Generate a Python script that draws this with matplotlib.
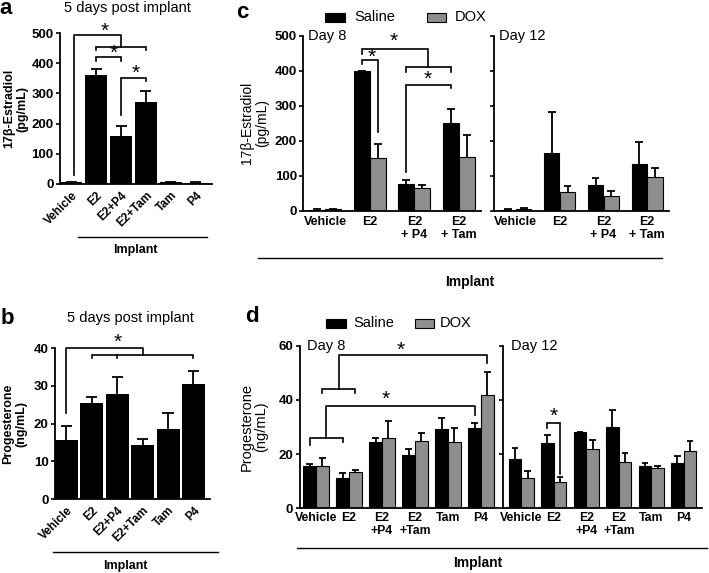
import numpy as np
import matplotlib
matplotlib.use('Agg')
import matplotlib.pyplot as plt
from matplotlib.lines import Line2D
from matplotlib.patches import Rectangle

plt.rcParams['font.family'] = ['Liberation Sans', 'DejaVu Sans']

# a/b: 5 days post implant (bar value, top of error bar)
groups_5d = ['Vehicle', 'E2', 'E2+P4', 'E2+Tam', 'Tam', 'P4']
e2_5d = [5, 361, 160, 273, 6, 4]
e2_5d_err = [6, 380, 193, 308, 7, 5]
p4_5d = [15.7, 25.6, 28.0, 14.3, 18.5, 30.4]
p4_5d_err = [19.4, 27.2, 32.3, 15.9, 22.7, 33.9]

# c: estradiol, saline vs DOX
groups_c = ['Vehicle', 'E2', 'E2\n+ P4', 'E2\n+ Tam']
e2_d8_sal = [3, 400, 76, 251]
e2_d8_sal_err = [4, 400, 88, 291]
e2_d8_dox = [4, 152, 65, 154]
e2_d8_dox_err = [5, 190, 73, 217]
e2_d12_sal = [3, 165, 74, 133]
e2_d12_sal_err = [4, 283, 95, 198]
e2_d12_dox = [6, 53, 43, 97]
e2_d12_dox_err = [8, 70, 56, 122]

# d: progesterone, saline vs DOX
groups_d = ['Vehicle', 'E2', 'E2\n+P4', 'E2\n+Tam', 'Tam', 'P4']
p4_d8_sal = [15.6, 11.3, 24.5, 19.7, 29.2, 29.5]
p4_d8_sal_err = [16.4, 13.1, 26.0, 22.0, 33.2, 31.6]
p4_d8_dox = [15.6, 13.3, 25.8, 24.9, 24.6, 41.8]
p4_d8_dox_err = [18.7, 14.0, 32.2, 27.8, 29.8, 50.4]
p4_d12_sal = [18.1, 24.0, 28.0, 30.1, 15.6, 16.6]
p4_d12_sal_err = [22.2, 27.2, 28.3, 36.3, 16.6, 19.4]
p4_d12_dox = [11.1, 9.7, 22.0, 17.2, 15.0, 21.3]
p4_d12_dox_err = [13.8, 11.4, 25.4, 20.3, 15.6, 25.0]

GREY = '#8e8e8e'
W, H = 709, 573
fig = plt.figure(figsize=(W / 100, H / 100), dpi=100)


def box(x0, x1, ytop, ybot):
    return fig.add_axes([x0 / W, 1 - ybot / H, (x1 - x0) / W, (ybot - ytop) / H])


def style(ax, ymax, step, ticklabels=True, fs=9.5):
    for s in ['top', 'right']:
        ax.spines[s].set_visible(False)
    ax.spines['left'].set_linewidth(1.3)
    ax.spines['bottom'].set_linewidth(1.3)
    ax.set_ylim(0, ymax)
    ax.set_yticks(np.arange(0, ymax + 1, step))
    ax.tick_params(axis='y', length=3, width=1.2, labelsize=fs, pad=1.5)
    ax.tick_params(axis='x', length=0)
    if ticklabels:
        for t in ax.get_yticklabels():
            t.set_fontweight('bold')
    else:
        ax.set_yticklabels([])


def errbars(ax, x, vals, tops, half):
    x = np.asarray(x, dtype=float)
    ax.vlines(x, vals, tops, color='k', lw=1.3, zorder=1)
    ax.hlines(tops, x - half, x + half, color='k', lw=1.3, zorder=1)


def bracket(ax, x1, x2, y, y1, y2, lw=1.2):
    ax.plot([x1, x1, x2, x2], [y1, y, y, y2], color='k', lw=lw, clip_on=False,
            solid_joinstyle='miter')


def star(ax, x, y, fs=15):
    ax.text(x, y, '*', ha='center', va='center', fontsize=fs, clip_on=False)


def ftext(x, y, s, **kw):
    fig.text(x / W, 1 - y / H, s, **kw)


def fline(x0, x1, y):
    fig.add_artist(Line2D([x0 / W, x1 / W], [1 - y / H, 1 - y / H], color='k', lw=1.0,
                          transform=fig.transFigure))


def fpatch(x0, x1, ytop, ybot, color):
    fig.add_artist(Rectangle((x0 / W, 1 - ybot / H), (x1 - x0) / W, (ybot - ytop) / H,
                             facecolor=color, edgecolor='k', lw=0.8,
                             transform=fig.transFigure))


# ---------- a ----------
ax = box(60, 212, 33, 184)
x = np.arange(len(groups_5d))
ax.bar(x, e2_5d, width=0.9, color='k', zorder=2)
errbars(ax, x, e2_5d, e2_5d_err, 0.22)
ax.set_xlim(-0.45, 5.65)
style(ax, 500, 100)
ax.set_xticks(x)
ax.set_xticklabels(groups_5d, rotation=45, ha='right', rotation_mode='anchor',
                   fontweight='bold', fontsize=8.5)
ax.tick_params(axis='x', pad=4)
ax.plot([0.1, 0.1, 2, 2], [30, 494, 494, 455], color='k', lw=1.2, clip_on=False)
bracket(ax, 1, 3, 455, 445, 445)
star(ax, 1.35, 506)
bracket(ax, 1, 2, 420, 406, 406)
star(ax, 1.7, 432)
bracket(ax, 2, 3, 351, 229, 340)
star(ax, 2.6, 368)
ax.text(-0.29, 0.5, '17\u03b2-Estradiol\n(pg/mL)', transform=ax.transAxes, rotation=90,
        ha='center', va='center', fontsize=9, fontweight='bold', linespacing=1.1)
ftext(6, 9, 'a', fontsize=16, fontweight='bold', ha='center', va='center')
ftext(127, 8, '5 days post implant', fontsize=10.5, ha='center', va='center')
fline(78, 207, 237)
ftext(135, 250, 'Implant', fontsize=9, fontweight='bold', ha='center', va='center')

# ---------- b ----------
ax = box(55, 210, 348.3, 499)
ax.bar(x, p4_5d, width=0.9, color='k', zorder=2)
errbars(ax, x, p4_5d, p4_5d_err, 0.22)
ax.set_xlim(-0.45, 5.65)
style(ax, 40, 10)
ax.set_xticks(x)
ax.set_xticklabels(groups_5d, rotation=45, ha='right', rotation_mode='anchor',
                   fontweight='bold', fontsize=8.5)
ax.tick_params(axis='x', pad=4)
ax.plot([0, 0, 3, 3], [22.7, 40, 40, 38.2], color='k', lw=1.2, clip_on=False)
bracket(ax, 1, 5, 38.2, 37.3, 37.3)
ax.plot([2, 2], [37.3, 38.2], color='k', lw=1.2, clip_on=False)
star(ax, 2, 41.6)
ax.text(-0.26, 0.5, 'Progesterone\n(ng/mL)', transform=ax.transAxes, rotation=90,
        ha='center', va='center', fontsize=9, fontweight='bold', linespacing=1.1)
ftext(7, 319, 'b', fontsize=16, fontweight='bold', ha='center', va='center')
ftext(130, 318, '5 days post implant', fontsize=10.5, ha='center', va='center')
fline(53, 218, 552)
ftext(125, 566, 'Implant', fontsize=9, fontweight='bold', ha='center', va='center')

# ---------- c ----------
xc = np.arange(len(groups_c))
off, bw = 0.18, 0.35
for (x0, x1), sal, sal_e, dox, dox_e, day, lab in [
        ((303, 481), e2_d8_sal, e2_d8_sal_err, e2_d8_dox, e2_d8_dox_err, 'Day 8', True),
        ((494, 669), e2_d12_sal, e2_d12_sal_err, e2_d12_dox, e2_d12_dox_err, 'Day 12', False)]:
    ax = box(x0, x1, 36, 210.7)
    ax.bar(xc - off, sal, width=bw, color='k', edgecolor='k', lw=0.8, zorder=2)
    ax.bar(xc + off, dox, width=bw, color=GREY, edgecolor='k', lw=0.8, zorder=2)
    errbars(ax, xc - off, sal, sal_e, 0.09)
    errbars(ax, xc + off, dox, dox_e, 0.09)
    ax.set_xlim(-0.5, 3.5)
    style(ax, 500, 100, ticklabels=lab, fs=9.5)
    ax.set_xticks(xc)
    ax.set_xticklabels(groups_c, fontweight='bold', fontsize=9, linespacing=1.05)
    ax.tick_params(axis='x', pad=4)
    ax.text(0.03, 1.0, day, transform=ax.transAxes, ha='left', va='center', fontsize=10.5)
    if lab:
        axc8 = ax

ax = axc8
bracket(ax, 1 - off, 1 + off, 431, 420, 225)
star(ax, 1.05, 439)
bracket(ax, 1 - off, 2.32, 463, 449, 411)
bracket(ax, 2 - off, 3 - off, 411, 397, 397)
star(ax, 1.53, 484)
bracket(ax, 2 - off, 3 - off, 360, 110, 351)
star(ax, 2.3, 376)
ax.text(-0.27, 0.5, '17\u03b2-Estradiol\n(pg/mL)', transform=ax.transAxes, rotation=90,
        ha='center', va='center', fontsize=10, linespacing=1.1)
ftext(242, 13, 'c', fontsize=16, fontweight='bold', ha='center', va='center')
fpatch(325, 345, 12.5, 22, 'k')
ftext(354, 17, 'Saline', fontsize=10.5, ha='left', va='center')
fpatch(427, 446, 12.5, 22, GREY)
ftext(455, 17, 'DOX', fontsize=10.5, ha='left', va='center')
fline(258, 662, 258)
ftext(470, 282, 'Implant', fontsize=10, fontweight='bold', ha='center', va='center')

# ---------- d ----------
xd = np.arange(len(groups_d))
off, bw = 0.195, 0.38
for (x0, x1), xl, sal, sal_e, dox, dox_e, day, lab in [
        ((299.5, 497.5), (-0.5, 5.5), p4_d8_sal, p4_d8_sal_err, p4_d8_dox, p4_d8_dox_err, 'Day 8', True),
        ((502.7, 701.7), (-0.57, 5.55), p4_d12_sal, p4_d12_sal_err, p4_d12_dox, p4_d12_dox_err, 'Day 12', False)]:
    ax = box(x0, x1, 345.8, 508.3)
    ax.bar(xd - off, sal, width=bw, color='k', edgecolor='k', lw=0.8, zorder=2)
    ax.bar(xd + off, dox, width=bw, color=GREY, edgecolor='k', lw=0.8, zorder=2)
    errbars(ax, xd - off, sal, sal_e, 0.1)
    errbars(ax, xd + off, dox, dox_e, 0.1)
    ax.set_xlim(*xl)
    style(ax, 60, 20, ticklabels=lab, fs=9.5)
    ax.set_xticks(xd)
    ax.set_xticklabels(groups_d, fontweight='bold', fontsize=8.8, linespacing=1.05)
    ax.tick_params(axis='x', pad=3)
    ax.text(0.04, 1.0, day, transform=ax.transAxes, ha='left', va='center', fontsize=10.5)
    if lab:
        axd8 = ax
    else:
        axd12 = ax

ax = axd8
bracket(ax, -off, 1 - off, 25.8, 23.4, 24.6)
ax.plot([0.305, 0.305, 5 - off, 5 - off], [25.8, 37.8, 37.8, 34.5], color='k', lw=1.2,
        clip_on=False)
star(ax, 2.1, 40.1)
bracket(ax, off, 1 + off, 43.9, 42.5, 42.5)
ax.plot([0.695, 0.695, 5 + off, 5 + off], [43.9, 56.6, 56.6, 53.5], color='k', lw=1.2,
        clip_on=False)
star(ax, 2.58, 58.4)
ax.text(-0.23, 0.5, 'Progesterone\n(ng/mL)', transform=ax.transAxes, rotation=90,
        ha='center', va='center', fontsize=10.5, linespacing=1.1)
bracket(axd12, 1 - off, 1 + off, 31.4, 29.6, 12.5)
star(axd12, 1.0, 34.0)
ftext(252, 317, 'd', fontsize=16, fontweight='bold', ha='center', va='center')
fpatch(326, 346, 319, 327.5, 'k')
ftext(353, 323, 'Saline', fontsize=10.5, ha='left', va='center')
fpatch(415, 434, 319, 327.5, GREY)
ftext(440, 323, 'DOX', fontsize=10.5, ha='left', va='center')
fline(297, 707, 548)
ftext(478, 563, 'Implant', fontsize=10, fontweight='bold', ha='center', va='center')

fig.savefig('out.png', dpi=100)
